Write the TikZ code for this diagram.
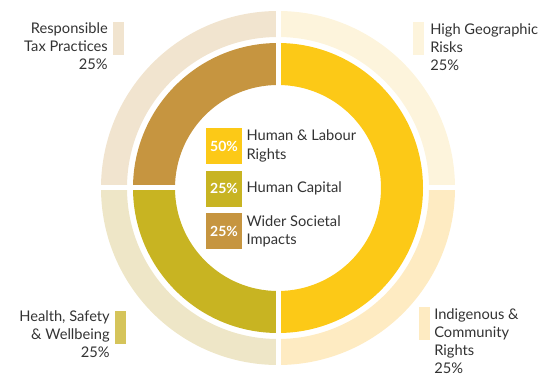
\documentclass[tikz,border=0pt]{standalone}
\usepackage{fontspec}
\setmainfont{Lato}
\usetikzlibrary{positioning}
\definecolor{labour}{HTML}{FCC917}
\definecolor{capital}{HTML}{C8B422}
\definecolor{societal}{HTML}{C69540}
\definecolor{taxring}{HTML}{F1E4CF}
\definecolor{georing}{HTML}{FDF4DC}
\definecolor{indigring}{HTML}{FEEBC2}
\definecolor{healthring}{HTML}{EEE6C7}
\definecolor{healthkey}{HTML}{D5C45A}
\definecolor{textgrey}{HTML}{333333}
\tikzstyle{every node}=[inner sep=0pt,text=textgrey,font=\fontsize{11}{13.6}\selectfont]
\tikzstyle{gap}=[white,line width=3.75pt]
\tikzstyle{swatch}=[minimum width=8.25pt,minimum height=24.75pt]
\tikzstyle{pct}=[minimum size=27pt,text=white,font=\fontsize{10.5}{13.6}\selectfont\bfseries]
\newcommand{\ringpart}[5]{\fill[#1] (#2:#5) arc[start angle=#2,end angle=#3,radius=#5] -- (#3:#4) arc[start angle=#3,end angle=#2,radius=#4] -- cycle;}

\begin{document}
\begin{tikzpicture}[x=0.75pt,y=0.75pt]
	\useasboundingbox (-278,-190) rectangle (271,188);
	% outer ring
	\ringpart{georing}{0}{90}{151}{177}
	\ringpart{taxring}{90}{180}{151}{177}
	\ringpart{healthring}{180}{270}{151}{177}
	\ringpart{indigring}{270}{360}{151}{177}
	% inner ring
	\ringpart{labour}{-90}{90}{103}{145}
	\ringpart{societal}{90}{180}{103}{145}
	\ringpart{capital}{180}{270}{103}{145}
	% white gaps
	\draw[gap] (0,-182) -- (0,182);
	\draw[gap] (-182,0) -- (-99,0);
	\draw[gap] (148,0) -- (182,0);

	% centre legend
	\node(b1)[pct,fill=labour] at (-54,42) {50\%};
	\node(b2)[pct,fill=capital,below=4.5pt of b1] {25\%};
	\node(b3)[pct,fill=societal,below=4.5pt of b2] {25\%};
	\node(t1)[right=3pt of b1,align=left] {Human \& Labour\\Rights};
	\node(t2)[right=3pt of b2,align=left] {Human Capital};
	\node(t3)[right=3pt of b3,align=left] {Wider Societal\\Impacts};

	% outer labels (base = last line)
	\node(taxkey)[swatch,fill=taxring] at (-159,149.5) {};
	\node(tax)[anchor=base east,align=right] at (-170,118.7) {Responsible\\Tax Practices\\25\%};
	\node(geokey)[swatch,fill=georing] at (140.5,149.5) {};
	\node(geo)[anchor=base west,align=left] at (152,117.7) {High Geographic\\Risks\\25\%};
	\node(healthkey)[swatch,fill=healthkey] at (-157.5,-139) {};
	\node(health)[anchor=base east,align=right] at (-168,-169.3) {Health, Safety\\\& Wellbeing\\25\%};
	\node(indigkey)[swatch,fill=indigring] at (146.5,-135) {};
	\node(indig)[anchor=base west,align=left] at (156,-185.4) {Indigenous \&\\Community\\Rights\\25\%};
\end{tikzpicture}
\end{document}
